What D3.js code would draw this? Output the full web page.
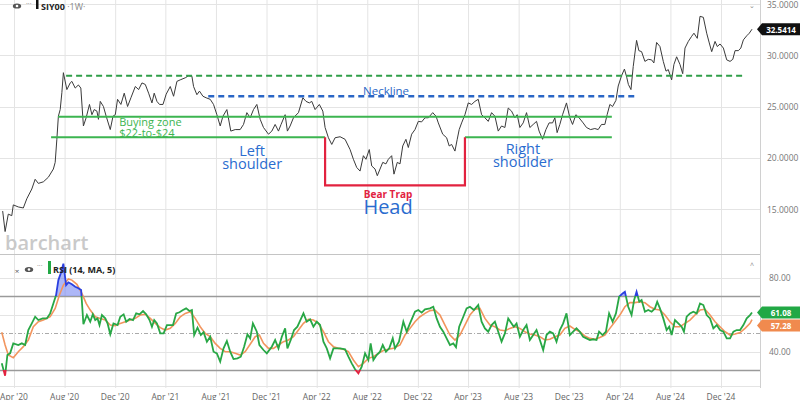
<!DOCTYPE html>
<html><head><meta charset="utf-8">
<script src="https://cdn.jsdelivr.net/npm/d3@7"></script>
<style>body{margin:0;background:#fff}svg{display:block;font-family:"Open Sans",sans-serif}</style>
</head><body><svg id="c" width="800" height="400"></svg>
<script>
// ---- DATA (dates as decimal years) ----
const priceDates=[
2020.174,2020.190,2020.211,2020.234,2020.244,2020.277,2020.310,2020.333,2020.366,2020.388,
2020.409,2020.442,2020.475,2020.508,2020.520,2020.531,2020.541,2020.553,2020.564,2020.574,
2020.597,2020.619,2020.630,2020.652,2020.673,2020.689,2020.706,2020.724,2020.746,2020.762,
2020.777,2020.795,2020.805,2020.817,2020.838,2020.856,2020.883,2020.901,2020.916,2020.931,
2020.953,2020.975,2020.997,2021.019,2021.048,2021.070,2021.092,2021.114,2021.136,2021.158,
2021.173,2021.191,2021.208,2021.231,2021.252,2021.279,2021.301,2021.323,2021.345,2021.378,
2021.400,2021.422,2021.433,2021.455,2021.472,2021.495,2021.516,2021.543,2021.565,2021.587,
2021.609,2021.627,2021.653,2021.679,2021.708,2021.741,2021.763,2021.785,2021.807,2021.829,
2021.851,2021.873,2021.895,2021.928,2021.950,2021.972,2021.994,2022.011,2022.038,2022.053,
2022.071,2022.093,2022.126,2022.155,2022.176,2022.198,2022.214,2022.236,2022.264,2022.287,
2022.302,2022.324,2022.346,2022.368,2022.401,2022.434,2022.467,2022.489,2022.511,2022.533,
2022.555,2022.572,2022.594,2022.610,2022.632,2022.647,2022.665,2022.683,2022.704,2022.720,
2022.742,2022.757,2022.779,2022.797,2022.815,2022.836,2022.852,2022.874,2022.896,2022.918,
2022.940,2022.962,2022.984,2023.013,2023.035,2023.050,2023.079,2023.105,2023.122,2023.138,
2023.160,2023.175,2023.188,2023.204,2023.226,2023.248,2023.270,2023.292,2023.314,2023.336,
2023.358,2023.380,2023.402,2023.424,2023.446,2023.468,2023.490,2023.512,2023.534,2023.556,
2023.571,2023.589,2023.611,2023.633,2023.655,2023.677,2023.699,2023.716,2023.739,2023.761,
2023.782,2023.805,2023.820,2023.835,2023.853,2023.871,2023.897,2023.919,2023.937,2023.959,
2023.980,2024.007,2024.029,2024.056,2024.084,2024.106,2024.128,2024.150,2024.165,2024.183,
2024.201,2024.223,2024.238,2024.260,2024.279,2024.295,2024.305,2024.322,2024.337,2024.359,
2024.374,2024.392,2024.414,2024.436,2024.458,2024.473,2024.491,2024.513,2024.535,2024.553,
2024.568,2024.579,2024.590,2024.605,2024.623,2024.645,2024.663,2024.678,2024.700,2024.722,
2024.737,2024.759,2024.777,2024.799,2024.821,2024.838,2024.854,2024.876,2024.891,2024.909,
2024.931,2024.953,2024.975,2024.993,2025.008,2025.030,2025.046,2025.063,2025.085,2025.102,
2025.120];
const priceValues=[
14.8,12.8,14.5,14.35,15.4,15.2,15.1,16.0,16.95,17.9,
17.5,17.65,18.1,18.9,19.55,21.8,24.05,24.7,26.35,28.3,
26.65,27.3,27.45,26.8,27.1,26.8,23.1,23.9,25.2,24.2,
24.7,24.55,23.75,25.5,25.0,24.05,22.75,24.05,24.2,25.7,
25.2,26.3,25.0,25.85,26.95,26.65,27.3,27.15,26.3,25.35,
26.3,25.5,25.2,25.2,26.2,26.95,26.0,27.45,27.6,27.8,
28.0,27.95,26.95,26.15,26.5,26.0,25.85,25.7,25.2,24.2,
23.1,24.05,24.7,22.6,22.75,22.75,23.25,24.4,23.9,24.7,
25.2,23.75,22.95,22.3,22.6,23.25,22.6,23.25,24.2,22.6,
23.1,23.9,24.4,25.85,25.5,25.35,25.5,24.7,25.2,24.55,
22.95,21.95,21.3,21.95,22.05,21.8,20.8,19.85,19.05,18.7,
20.2,19.85,20.8,19.2,18.9,18.25,18.9,19.55,19.4,19.85,
20.2,18.4,19.55,19.4,21.15,21.8,21.0,22.3,22.75,23.55,
23.5,23.9,23.9,24.4,24.05,23.4,22.3,21.95,21.15,21.3,
20.65,21.8,22.75,23.4,24.2,25.35,25.2,25.5,25.7,24.2,
23.9,23.55,24.4,24.05,22.6,23.1,22.95,24.85,24.55,23.9,
24.2,22.95,23.4,24.4,22.95,23.25,23.55,22.6,21.8,22.75,
23.4,23.4,23.9,22.45,23.25,24.2,25.35,23.9,23.25,24.2,
23.9,23.4,22.95,22.75,22.85,22.75,23.25,23.25,24.2,25.2,
25.0,25.6,27.0,28.0,28.65,27.8,27.15,26.65,28.9,31.45,
30.45,30.35,29.4,29.6,29.55,29.25,31.25,30.85,29.4,28.45,
28.6,28.1,27.6,29.1,29.85,29.1,28.2,30.7,31.35,31.85,
32.15,31.65,33.8,33.7,32.15,31.2,30.35,31.35,30.85,31.1,
30.7,29.55,29.4,29.6,30.45,30.45,30.7,31.5,31.9,32.15,
32.5414];

const rsiDates=[
2020.168,2020.190,2020.205,2020.223,2020.244,2020.277,2020.300,2020.322,2020.343,2020.366,
2020.388,2020.409,2020.438,2020.465,2020.487,2020.508,2020.526,2020.541,2020.557,2020.574,
2020.592,2020.607,2020.630,2020.652,2020.673,2020.691,2020.706,2020.729,2020.751,2020.768,
2020.784,2020.799,2020.812,2020.828,2020.850,2020.865,2020.883,2020.904,2020.931,2020.949,
2020.971,2020.988,2021.010,2021.033,2021.054,2021.076,2021.099,2021.120,2021.142,2021.158,
2021.173,2021.191,2021.213,2021.235,2021.257,2021.279,2021.297,2021.318,2021.340,2021.363,
2021.384,2021.406,2021.422,2021.437,2021.459,2021.481,2021.499,2021.521,2021.543,2021.565,
2021.587,2021.609,2021.631,2021.653,2021.675,2021.697,2021.723,2021.745,2021.767,2021.789,
2021.807,2021.825,2021.851,2021.868,2021.895,2021.917,2021.950,2021.972,2021.994,2022.016,
2022.038,2022.053,2022.075,2022.097,2022.119,2022.141,2022.159,2022.181,2022.203,2022.225,
2022.247,2022.269,2022.291,2022.313,2022.335,2022.357,2022.401,2022.434,2022.456,2022.478,
2022.500,2022.522,2022.544,2022.566,2022.588,2022.603,2022.621,2022.643,2022.665,2022.683,
2022.704,2022.726,2022.749,2022.764,2022.790,2022.819,2022.841,2022.863,2022.896,2022.918,
2022.940,2022.962,2022.995,2023.017,2023.039,2023.061,2023.083,2023.105,2023.127,2023.149,
2023.167,2023.188,2023.215,2023.237,2023.259,2023.285,2023.314,2023.336,2023.358,2023.380,
2023.402,2023.424,2023.446,2023.468,2023.490,2023.512,2023.534,2023.549,2023.567,2023.589,
2023.611,2023.633,2023.655,2023.677,2023.699,2023.721,2023.743,2023.765,2023.787,2023.809,
2023.831,2023.853,2023.875,2023.897,2023.919,2023.941,2023.963,2023.985,2024.007,2024.029,
2024.051,2024.073,2024.095,2024.112,2024.135,2024.157,2024.178,2024.201,2024.223,2024.244,
2024.267,2024.282,2024.304,2024.326,2024.343,2024.359,2024.377,2024.392,2024.414,2024.436,
2024.458,2024.480,2024.495,2024.513,2024.535,2024.557,2024.574,2024.590,2024.612,2024.634,
2024.656,2024.671,2024.689,2024.711,2024.733,2024.755,2024.777,2024.799,2024.821,2024.843,
2024.865,2024.887,2024.909,2024.931,2024.953,2024.975,2024.997,2025.019,2025.041,2025.063,
2025.085,2025.107,2025.120];
const rsiValues=[
33.6,26.9,38.1,39.0,44.4,43.5,44.4,43.5,51.6,55.2,
58.8,57.0,57.9,57.9,60.6,66.0,70.5,78.6,82.3,87.5,
75.9,77.4,76.3,75.0,74.2,73.2,54.7,59.7,56.1,60.1,
57.0,57.9,54.3,59.7,57.9,55.2,49.3,55.2,54.3,58.8,
60.1,56.1,57.6,57.0,60.6,60.1,61.9,60.1,57.0,53.4,
57.0,55.2,49.8,49.8,54.3,54.3,54.3,60.6,61.2,62.4,
63.3,61.9,62.4,48.9,52.9,48.9,50.4,45.3,48.0,39.9,
39.0,34.5,41.7,45.7,39.9,35.9,36.3,37.2,42.6,49.3,
47.1,55.2,50.7,43.5,40.8,39.0,42.6,46.2,41.7,48.0,
52.5,41.7,46.2,51.6,53.4,57.4,60.6,56.1,57.4,53.4,
56.1,54.3,45.3,41.7,36.3,41.7,41.7,41.2,37.2,33.6,
30.4,28.2,31.8,39.0,35.4,44.4,35.4,38.1,39.9,43.5,
39.9,41.7,47.1,41.7,45.3,56.1,50.7,55.2,61.5,62.4,
61.0,62.8,63.3,64.2,57.9,53.4,50.7,47.1,43.5,44.4,
42.3,53.4,58.8,63.3,64.2,62.4,65.1,56.1,52.5,50.7,
54.3,56.1,50.7,45.3,49.8,57.9,55.2,53.4,55.2,48.0,
51.6,54.3,46.2,48.9,51.6,46.2,40.8,48.9,50.7,49.8,
45.3,51.6,55.2,60.6,48.9,50.7,52.5,50.7,48.0,47.1,
46.2,46.6,46.2,50.7,48.9,50.7,60.6,56.1,60.6,69.6,
71.4,72.3,64.2,59.7,67.8,72.3,66.9,67.8,61.5,62.4,
61.5,63.3,66.9,63.3,57.9,51.6,53.4,48.9,57.0,55.2,
53.4,50.7,58.8,60.6,61.5,60.6,66.0,65.1,59.7,57.9,
52.5,54.3,51.6,50.7,47.1,47.1,50.7,51.6,51.6,54.3,
57.9,59.7,61.08];

const maDates=[
2020.168,2020.190,2020.211,2020.244,2020.277,2020.310,2020.343,2020.376,2020.409,2020.442,
2020.487,2020.520,2020.548,2020.574,2020.607,2020.630,2020.663,2020.696,2020.724,2020.751,
2020.784,2020.817,2020.850,2020.883,2020.916,2020.949,2020.982,2021.015,2021.048,2021.081,
2021.114,2021.147,2021.180,2021.213,2021.246,2021.279,2021.312,2021.345,2021.378,2021.411,
2021.444,2021.477,2021.510,2021.543,2021.576,2021.609,2021.642,2021.675,2021.708,2021.741,
2021.774,2021.807,2021.840,2021.868,2021.895,2021.928,2021.961,2021.994,2022.027,2022.060,
2022.093,2022.126,2022.159,2022.192,2022.225,2022.258,2022.291,2022.324,2022.357,2022.390,
2022.423,2022.456,2022.489,2022.522,2022.555,2022.588,2022.621,2022.654,2022.687,2022.720,
2022.753,2022.797,2022.830,2022.863,2022.896,2022.929,2022.962,2022.995,2023.028,2023.061,
2023.094,2023.127,2023.160,2023.193,2023.226,2023.259,2023.292,2023.325,2023.358,2023.391,
2023.424,2023.457,2023.490,2023.523,2023.556,2023.589,2023.622,2023.655,2023.688,2023.721,
2023.754,2023.787,2023.820,2023.853,2023.886,2023.919,2023.952,2023.985,2024.018,2024.051,
2024.084,2024.117,2024.150,2024.183,2024.216,2024.249,2024.282,2024.315,2024.348,2024.381,
2024.414,2024.447,2024.480,2024.513,2024.546,2024.579,2024.612,2024.645,2024.678,2024.711,
2024.744,2024.777,2024.810,2024.843,2024.876,2024.909,2024.942,2024.975,2025.008,2025.041,
2025.074,2025.107,2025.120];
const maValues=[
50.4,43.5,38.1,36.6,39.9,42.6,46.2,53.4,56.1,57.0,
58.8,63.3,70.5,75.9,79.2,78.6,76.3,71.4,66.0,62.4,
58.8,57.9,57.0,54.3,53.9,55.2,56.1,57.0,57.9,59.7,
60.1,57.9,55.2,52.9,51.6,52.5,55.2,58.8,60.6,61.5,
57.9,53.4,49.8,48.0,44.4,41.7,39.9,39.9,39.0,38.1,
39.9,43.9,48.0,48.9,44.4,41.7,41.7,43.5,45.3,46.2,
48.0,51.6,55.2,57.4,57.0,55.2,50.7,45.3,42.6,41.7,
41.2,39.9,35.4,31.8,33.6,36.3,37.2,39.0,40.5,41.2,
41.7,43.5,48.9,52.5,56.1,58.8,60.6,62.1,62.4,59.7,
54.3,48.9,46.2,48.9,54.3,59.7,62.8,63.3,57.9,54.3,
53.4,51.6,51.2,52.5,53.4,52.5,50.7,49.5,48.9,48.0,
46.2,46.6,48.0,48.9,52.5,53.8,52.0,50.7,48.4,47.1,
46.6,47.6,48.9,52.5,56.1,59.7,64.2,66.4,66.4,66.9,
66.4,64.2,62.8,62.4,59.7,56.1,53.4,53.4,55.2,57.0,
59.7,62.4,62.8,59.7,56.1,53.4,50.7,48.9,49.5,50.2,
52.5,55.2,57.28];

const priceTicks=[15,20,25,30,35];
const rsiTicks=[40,80];
const rsiGridLevels=[80,60,40];
const rsiBandLevels=[70,30];
const rsiMidLevel=50;
const lastPrice=32.5414, lastRsi=61.08, lastMa=57.28;

// annotation levels (price) and their date spans
const lineLevels=[28,26,24,22,22];
const lineStarts=[2020.592,2021.530,2020.539,2020.493,2023.226];
const lineEnds=[2025.081,2024.355,2024.196,2022.302,2024.196];
const trapDates=[2022.302,2023.226];
const trapLevels=[22,17.3];
// each note: lines of text anchored at (date, value) of first line
const noteLines=[["Neckline"],["Buying zone","$22-to-$24"],["Left","shoulder"],["Right","shoulder"],["Bear Trap","Head"]];
const noteDates=[2022.705,2020.942,2021.820,2023.609,2022.718];
const noteValues=[26.55,23.45,20.53,20.73,16.46];

// ---- helpers ----
function toDate(t){const y=Math.floor(t);const a=Date.UTC(y,0,1),b=Date.UTC(y+1,0,1);return new Date(a+(t-y)*(b-a));}
const svg=d3.select("#c");
const W=760, mainTop=0, mainBot=254, rsiTop=255, rsiBot=386;

const x=d3.scaleUtc().domain([new Date(Date.UTC(2020,3,1)),new Date(Date.UTC(2024,11,1))]).range([14,721]);
const y=d3.scaleLinear().domain([15,35]).range([209,4]);
const yr=d3.scaleLinear().domain([30,70]).range([370,296]);
const xTicks=d3.utcMonth.range(new Date(Date.UTC(2020,3,1)),new Date(Date.UTC(2025,0,2)),4);

const defs=svg.append("defs");
function clip(id,x0,y0,w,h){defs.append("clipPath").attr("id",id).append("rect").attr("x",x0).attr("y",y0).attr("width",w).attr("height",h);}
clip("cMain",0,mainTop,W,mainBot-mainTop);
clip("cRsiMid",0,yr(70),W,yr(30)-yr(70));
clip("cRsiHi",0,rsiTop,W,yr(70)-rsiTop);
clip("cRsiLo",0,yr(30),W,rsiBot-yr(30));

// grid
const grid=svg.append("g");
grid.selectAll(".vg").data(xTicks).join("line").attr("x1",d=>x(d)+.5).attr("x2",d=>x(d)+.5).attr("y1",0).attr("y2",rsiBot+2).attr("stroke","#e4e4e4");
grid.selectAll(".hg").data(priceTicks).join("line").attr("x1",0).attr("x2",W).attr("y1",d=>Math.round(y(d))+.5).attr("y2",d=>Math.round(y(d))+.5).attr("stroke","#e4e4e4");
grid.selectAll(".rg").data(rsiGridLevels).join("line").attr("x1",0).attr("x2",W).attr("y1",d=>Math.round(yr(d))+.5).attr("y2",d=>Math.round(yr(d))+.5).attr("stroke","#e4e4e4");
grid.selectAll(".rb").data(rsiBandLevels).join("line").attr("x1",0).attr("x2",W).attr("y1",d=>Math.round(yr(d))+.5).attr("y2",d=>Math.round(yr(d))+.5).attr("stroke","#9a9a9a").attr("stroke-width",1.3);
grid.append("line").attr("x1",0).attr("x2",W).attr("y1",Math.round(yr(rsiMidLevel))+.5).attr("y2",Math.round(yr(rsiMidLevel))+.5).attr("stroke","#aaa").attr("stroke-dasharray","4,2,1,2");
grid.append("line").attr("x1",0).attr("x2",W).attr("y1",mainBot+.5).attr("y2",mainBot+.5).attr("stroke","#c4c4c4");
grid.append("line").attr("x1",0).attr("x2",W).attr("y1",rsiBot+.5).attr("y2",rsiBot+.5).attr("stroke","#e4e4e4");
grid.append("line").attr("x1",W+.5).attr("x2",W+.5).attr("y1",0).attr("y2",rsiBot+2).attr("stroke","#d0d0d0");

// watermark
svg.append("text").attr("x",5).attr("y",250).attr("font-size",20).attr("font-weight",600).attr("fill","#c9c9c9").text("barchart");

// price line
const price=priceDates.map((t,i)=>({d:toDate(t),v:priceValues[i]}));
const gMain=svg.append("g").attr("clip-path","url(#cMain)");
gMain.append("path").datum(price).attr("fill","none").attr("stroke","#3a3a3a").attr("stroke-width",1)
  .attr("d",d3.line().x(d=>x(d.d)).y(d=>y(d.v)));

// annotation lines
const lineColors=["#2f9e48","#2a66c6","#3cb550","#3cb550","#3cb550"];
const lineDash=["6,4","6,4",null,null,null];
const lineWidths=[2,2.5,2.2,2.2,2.2];
lineLevels.forEach((lv,i)=>{
  gMain.append("line").attr("x1",x(toDate(lineStarts[i]))).attr("x2",x(toDate(lineEnds[i])))
   .attr("y1",y(lv)).attr("y2",y(lv)).attr("stroke",lineColors[i]).attr("stroke-width",lineWidths[i])
   .attr("stroke-dasharray",lineDash[i]);
});
const trapPts=[[trapDates[0],trapLevels[0]],[trapDates[0],trapLevels[1]],[trapDates[1],trapLevels[1]],[trapDates[1],trapLevels[0]]];
gMain.append("path").datum(trapPts).attr("fill","none").attr("stroke","#e2223f").attr("stroke-width",2.2)
  .attr("d",d3.line().x(d=>x(toDate(d[0]))).y(d=>y(d[1])));

// annotation texts (multi-line notes as one text with tspans)
const noteStyle=[
  {anchor:"middle",lines:[{c:"#2a66c6",s:11.5,w:400,dy:0}]},
  {anchor:"start", lines:[{c:"#3cb550",s:11,w:400,dy:0},{c:"#3cb550",s:11,w:400,dy:11}]},
  {anchor:"middle",lines:[{c:"#2a6ccf",s:14.5,w:400,dy:0},{c:"#2a6ccf",s:14.5,w:400,dy:13}]},
  {anchor:"middle",lines:[{c:"#2a6ccf",s:14.5,w:400,dy:0},{c:"#2a6ccf",s:14.5,w:400,dy:13}]},
  {anchor:"middle",lines:[{c:"#e2223f",s:10,w:700,dy:0},{c:"#2a6ccf",s:20,w:400,dy:16}]}
];
noteLines.forEach((ls,i)=>{
  const st=noteStyle[i], nx=x(toDate(noteDates[i])), ny=y(noteValues[i]);
  const t=svg.append("text").attr("x",nx).attr("y",ny+4).attr("text-anchor",st.anchor);
  ls.forEach((s,j)=>{
    t.append("tspan").attr("x",nx).attr("dy",st.lines[j].dy).attr("font-size",st.lines[j].s)
     .attr("font-weight",st.lines[j].w).attr("fill",st.lines[j].c).text(s);
  });
});

// right price axis labels
svg.selectAll(".pl").data(priceTicks).join("text").attr("x",767).attr("y",d=>y(d)).attr("dominant-baseline","central")
  .attr("font-size",8.5).attr("fill","#777").text(d=>d.toFixed(4));
function tag(yy,txt,fill){
  svg.append("path").attr("d",`M757,${yy} L762,${yy-6} L800,${yy-6} L800,${yy+6} L762,${yy+6} Z`).attr("fill",fill);
  svg.append("text").attr("x",781).attr("y",yy).attr("dominant-baseline","central").attr("text-anchor","middle")
   .attr("font-size",8).attr("font-weight",700).attr("fill","#fff").text(txt);
}
tag(y(lastPrice),lastPrice.toFixed(4),"#111");

// RSI
const rsi=rsiDates.map((t,i)=>({d:toDate(t),v:rsiValues[i]}));
const ma=maDates.map((t,i)=>({d:toDate(t),v:maValues[i]}));
const rl=d3.line().x(d=>x(d.d)).y(d=>yr(d.v));
svg.append("path").datum(rsi).attr("clip-path","url(#cRsiHi)").attr("fill","#5b6ff0").attr("fill-opacity",0.5)
  .attr("d",d3.area().x(d=>x(d.d)).y0(yr(70)).y1(d=>yr(d.v)));
svg.append("path").datum(rsi).attr("clip-path","url(#cRsiLo)").attr("fill","#f05a70").attr("fill-opacity",0.5)
  .attr("d",d3.area().x(d=>x(d.d)).y0(yr(30)).y1(d=>yr(d.v)));
svg.append("path").datum(ma).attr("fill","none").attr("stroke","#f2955e").attr("stroke-width",1.6).attr("d",rl);
svg.append("path").datum(rsi).attr("clip-path","url(#cRsiMid)").attr("fill","none").attr("stroke","#28a745").attr("stroke-width",1.8).attr("d",rl);
svg.append("path").datum(rsi).attr("clip-path","url(#cRsiHi)").attr("fill","none").attr("stroke","#2a3fe0").attr("stroke-width",1.8).attr("d",rl);
svg.append("path").datum(rsi).attr("clip-path","url(#cRsiLo)").attr("fill","none").attr("stroke","#e2223f").attr("stroke-width",1.8).attr("d",rl);

svg.selectAll(".rl").data(rsiTicks).join("text").attr("x",769).attr("y",d=>yr(d)).attr("dominant-baseline","central")
  .attr("font-size",8.5).attr("fill","#777").text(d=>d.toFixed(2));
const gy=yr(lastRsi), oy=Math.max(yr(lastMa),gy+13);
tag(gy,lastRsi.toFixed(2),"#22a845");
tag(oy,lastMa.toFixed(2),"#f08a4e");

// x axis labels
svg.selectAll(".xl").data(xTicks).join("text").attr("x",d=>x(d)).attr("y",396).attr("dominant-baseline","central")
  .attr("text-anchor","middle").attr("font-size",8.5).attr("fill","#666").text(d=>d3.utcFormat("%b '%y")(d));

// headers
function eye(cx,cy){
  svg.append("ellipse").attr("cx",cx).attr("cy",cy).attr("rx",4.2).attr("ry",2.6).attr("fill","#555");
  svg.append("circle").attr("cx",cx).attr("cy",cy).attr("r",1.3).attr("fill","#fff");
}
eye(17,6);
svg.append("text").attr("x",26).attr("y",6).attr("font-size",7).attr("fill","#777").text("···");
svg.append("rect").attr("x",36).attr("y",0).attr("width",2.5).attr("height",9).attr("fill","#111");
const hdr=svg.append("text").attr("x",41).attr("y",6).attr("dominant-baseline","central").attr("font-size",9);
hdr.append("tspan").attr("font-weight",700).attr("fill","#222").text("SIY00");
hdr.append("tspan").attr("fill","#888").text(" ·1W·");
svg.append("text").attr("x",752).attr("y",8).attr("text-anchor","middle").attr("font-size",7).attr("fill","#888").text("⌄");

svg.append("text").attr("x",17).attr("y",270).attr("text-anchor","middle").attr("dominant-baseline","central").attr("font-size",8).attr("fill","#555").text("×");
eye(29,269.5);
svg.append("text").attr("x",37).attr("y",268).attr("font-size",7).attr("fill","#777").text("···");
svg.append("rect").attr("x",48).attr("y",261).attr("width",3).attr("height",13).attr("fill","#22a845");
svg.append("text").attr("x",53).attr("y",269.5).attr("dominant-baseline","central").attr("font-size",9).attr("font-weight",700).attr("fill","#222").text("RSI (14, MA, 5)");
svg.append("text").attr("x",752).attr("y",268).attr("text-anchor","middle").attr("font-size",7).attr("fill","#888").text("^");
</script></body></html>
